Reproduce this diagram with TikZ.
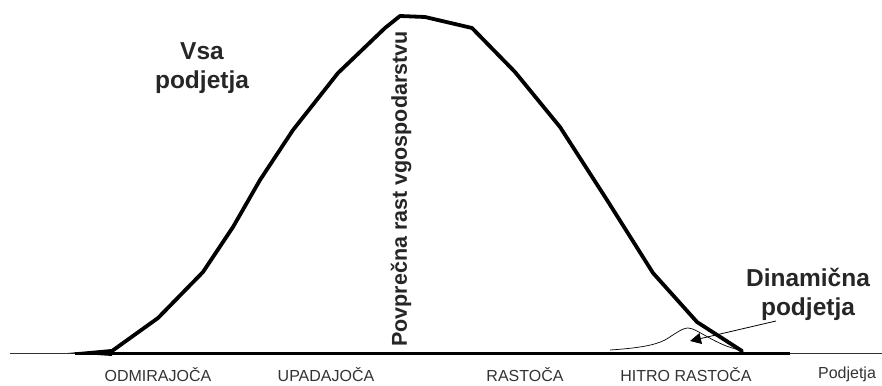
\documentclass[tikz,border=0pt]{standalone}
\usepackage{fontspec}
\setmainfont{Liberation Sans}
\usetikzlibrary{arrows.meta}
\begin{document}
\begin{tikzpicture}[x=1pt,y=-1pt,
  mainline/.style={line width=3.8pt,line join=round,line cap=round},
  thinline/.style={line width=0.8pt},
  biglabel/.style={font=\bfseries\fontsize{24.5}{29}\selectfont,align=center,text=black!85,inner sep=0pt},
  axislabel/.style={font=\fontsize{16}{18}\selectfont,text=black!80,inner sep=0pt}]
\useasboundingbox (0,0) rectangle (882,385);
% faint shading inside curve
\begin{scope}
\clip (112,352) -- (158,318) -- (203,272) -- (233,227) -- (260,180) -- (293,130) -- (338,73) -- (385,28) -- (400,17) -- (425,17) -- (472,28) -- (515,72) -- (560,127) -- (607,200) -- (653,273) -- (697,322) -- (742,352) -- cycle;
\shade[left color=white,middle color=black!5,right color=white] (220,20) rectangle (620,352);
\end{scope}
% thin baseline
\draw[thinline,black!80] (10,353) -- (882,353);
% thick baseline
\draw[line width=3pt] (75,353) -- (790,353);
\fill (68,353) -- (112,349) -- (112,356) -- cycle;
% main curve
\draw[mainline] (112,351) -- (158,318) -- (203,272) -- (233,227) -- (260,180) -- (293,130) -- (338,73) -- (385,28) -- (400,16) -- (425,17) -- (472,28) -- (515,72) -- (560,127) -- (607,200) -- (653,273) -- (697,322) -- (742,351);
% small dynamic curve
\draw[line width=0.7pt] (610,350) .. controls (640,348) and (655,345) .. (665,340) .. controls (675,334) and (682,328) .. (688,328) .. controls (697,328) and (715,345) .. (740,350);
% labels
\node[biglabel] (vsa) at (202,68) {Vsa\\podjetja};
\node[biglabel] (dyn) at (808,294) {Dinamična\\podjetja};
\node[biglabel,rotate=90,font=\bfseries\fontsize{21.5}{24}\selectfont] (avg) at (401,189) {Povprečna rast vgospodarstvu};
\coordinate (arrstart) at (776,321);
\coordinate (arrend) at (690,341);
\draw[line width=0.8pt,-{Triangle[length=11pt,width=11pt]}] (arrstart) -- (arrend);
% axis labels
\node[axislabel] (l1) at (158,374.5) {ODMIRAJOČA};
\node[axislabel] (l2) at (326,374.5) {UPADAJOČA};
\node[axislabel] (l3) at (525,374.5) {RASTOČA};
\node[axislabel] (l4) at (686,374.5) {HITRO RASTOČA};
\node[axislabel] (l5) at (847,374.5) {Podjetja};
\end{tikzpicture}
\end{document}
